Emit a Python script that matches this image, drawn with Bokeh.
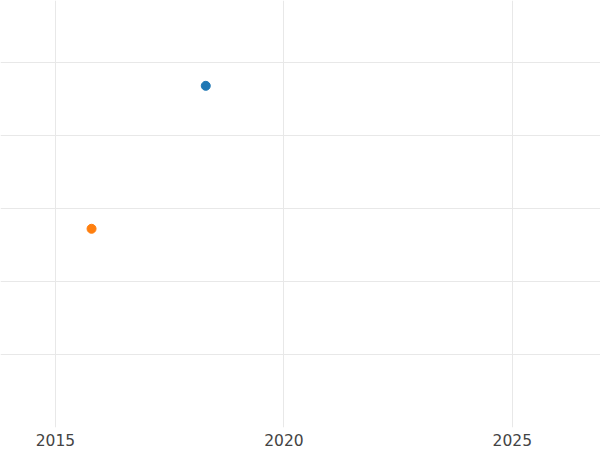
from bokeh.plotting import figure
from bokeh.models import FixedTicker, Range1d
from bokeh.embed import file_html
from bokeh.resources import INLINE

series_names = ["A", "B"]
series_x = [2018.29, 2015.79]
series_y = [1.675, -0.277]
series_colors = ["#1f77b4", "#ff7f0e"]
x_ticks = [2015, 2020, 2025]
y_ticks = [-2, -1, 0, 1, 2]

p = figure(frame_width=600, frame_height=427, output_backend="svg", toolbar_location=None,
           x_range=Range1d(2013.797, 2026.93), y_range=Range1d(-2.99, 2.84),
           min_border=0, min_border_left=0, min_border_right=0, min_border_top=0, min_border_bottom=0)
p.outline_line_color = None
p.background_fill_color = "white"
p.border_fill_color = "white"

for xv, yv, c in zip(series_x, series_y, series_colors):
    p.scatter([xv], [yv], size=9, color=c, line_color=c)

p.yaxis.visible = False
p.ygrid.ticker = FixedTicker(ticks=y_ticks)
p.ygrid.grid_line_color = "#e8e8e8"
p.ygrid.grid_line_width = 1
p.xaxis.ticker = FixedTicker(ticks=x_ticks)
p.xgrid.ticker = FixedTicker(ticks=x_ticks)
p.xgrid.grid_line_color = "#e8e8e8"
p.xgrid.grid_line_width = 1
p.xaxis.axis_line_color = None
p.xaxis.major_tick_line_color = None
p.xaxis.minor_tick_line_color = None
p.xaxis.major_tick_out = 0
p.xaxis.major_tick_in = 0
p.xaxis.major_label_standoff = 6
p.xaxis.major_label_text_font = "DejaVu Sans"
p.xaxis.major_label_text_font_size = "15.5px"
p.xaxis.major_label_text_color = "#444444"

open("out.html", "w").write(file_html(p, INLINE))
